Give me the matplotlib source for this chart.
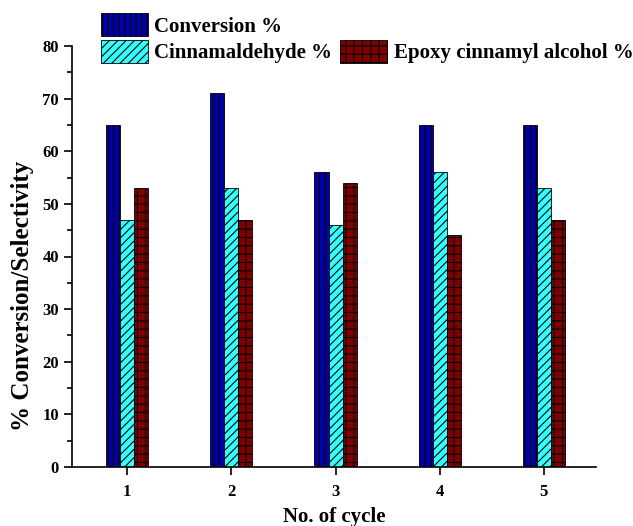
import matplotlib.pyplot as plt
import numpy as np
from matplotlib.patches import Patch
from matplotlib.ticker import MultipleLocator

cycles = [1, 2, 3, 4, 5]
conversion = [65, 71, 56, 65, 65]
cinnamaldehyde = [47, 53, 46, 56, 53]
epoxy = [53, 47, 54, 44, 47]

labels = ["Conversion %", "Cinnamaldehyde %", "Epoxy cinnamyl alcohol %"]
colors = ["#0000a8", "#33ffff", "#800000"]
hatches = ["|||", "////", "++"]


def main():
    plt.rcParams['font.family'] = ['Liberation Serif', 'DejaVu Serif']
    plt.rcParams['font.weight'] = 'bold'
    plt.rcParams['hatch.linewidth'] = 0.8

    fig = plt.figure(figsize=(6.33, 5.26), dpi=100)
    ax = fig.add_axes([72 / 633, 1 - 467 / 526, (596 - 72) / 633, (467 - 46) / 526])

    x = np.array(cycles)
    w = 0.135
    series = [conversion, cinnamaldehyde, epoxy]
    for i, vals in enumerate(series):
        ax.bar(x + (i - 1) * w, vals, w, color=colors[i], hatch=hatches[i],
               edgecolor="black", linewidth=0.6)

    ax.set_xlim(0.47, 5.5)
    ax.set_ylim(0, 80)
    ax.set_xticks(cycles)
    ax.yaxis.set_major_locator(MultipleLocator(10))
    ax.yaxis.set_minor_locator(MultipleLocator(5))
    ax.tick_params(axis="both", direction="out", labelsize=12, width=1.2, length=6)
    ax.tick_params(axis="y", which="minor", direction="out", width=1.2, length=3.5)
    ax.tick_params(axis="x", pad=6)
    for s in ["top", "right"]:
        ax.spines[s].set_visible(False)
    for s in ["left", "bottom"]:
        ax.spines[s].set_linewidth(1.2)

    ax.set_xlabel("No. of cycle", fontsize=15, fontweight="bold", labelpad=5)
    ax.set_ylabel("% Conversion/Selectivity", fontsize=18, fontweight="bold")
    ax.yaxis.set_label_coords(-0.072, 0.406)

    handles = [Patch(facecolor=colors[i], hatch=hatches[i], edgecolor="black", linewidth=0.6)
               for i in range(3)]
    blank = Patch(visible=False)
    fig.legend([handles[0], handles[1], blank, handles[2]],
               [labels[0], labels[1], "", labels[2]],
               ncol=2, loc="upper left", bbox_to_anchor=(101 / 633, 1 - 13 / 526),
               frameon=False, prop={"size": 15, "weight": "bold"},
               handlelength=2.25, handleheight=1.35, handletextpad=0.3,
               columnspacing=0.4, labelspacing=0.15, borderpad=0, borderaxespad=0)

    fig.savefig("out.png", dpi=100)
    plt.close(fig)


if __name__ == '__main__':
    main()
